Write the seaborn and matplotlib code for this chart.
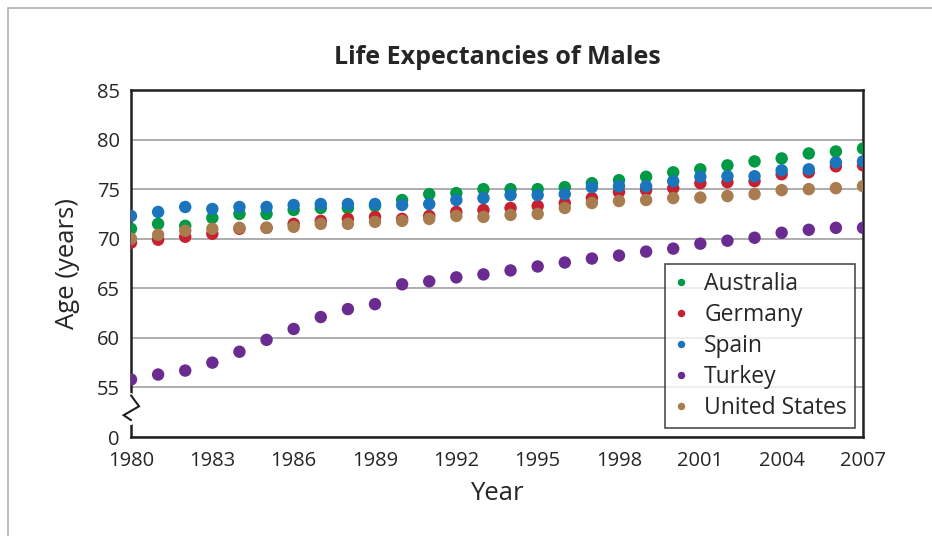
import numpy as np
import pandas as pd
import seaborn as sns
import matplotlib.pyplot as plt
from matplotlib.patches import Rectangle

# values
years = list(range(1980, 2008))
australia = [71.0, 71.5, 71.3, 72.1, 72.5, 72.5, 72.9, 73.1, 73.1, 73.3,
             73.9, 74.5, 74.6, 75.0, 75.0, 75.0, 75.2, 75.6, 75.9, 76.25,
             76.7, 77.0, 77.4, 77.8, 78.1, 78.6, 78.8, 79.1]
germany = [69.6, 69.9, 70.2, 70.5, 71.0, 71.1, 71.5, 71.8, 72.0, 72.2,
           72.0, 72.3, 72.7, 72.9, 73.1, 73.3, 73.6, 74.1, 74.7, 74.9,
           75.1, 75.6, 75.7, 75.8, 76.5, 76.7, 77.3, 77.4]
spain = [72.3, 72.7, 73.2, 73.0, 73.2, 73.2, 73.4, 73.5, 73.5, 73.5,
         73.4, 73.5, 73.9, 74.1, 74.4, 74.4, 74.5, 75.2, 75.3, 75.3,
         75.8, 76.25, 76.3, 76.3, 76.9, 77.0, 77.7, 77.8]
turkey = [55.8, 56.3, 56.7, 57.5, 58.6, 59.8, 60.9, 62.1, 62.9, 63.4,
          65.4, 65.7, 66.1, 66.4, 66.8, 67.2, 67.6, 68.0, 68.3, 68.7,
          69.0, 69.5, 69.8, 70.1, 70.6, 70.9, 71.1, 71.1]
usa = [70.0, 70.4, 70.8, 71.0, 71.1, 71.1, 71.2, 71.5, 71.5, 71.7,
       71.8, 72.0, 72.3, 72.2, 72.4, 72.5, 73.1, 73.6, 73.8, 73.9,
       74.1, 74.15, 74.3, 74.5, 74.9, 75.0, 75.1, 75.3]

countries = ["Australia", "Germany", "Spain", "Turkey", "United States"]
colors = ["#009a44", "#c8202f", "#1b75bc", "#6a2c91", "#a97c50"]
ytick_vals = [50, 55, 60, 65, 70, 75, 80, 85]
ytick_labels = ["0", "55", "60", "65", "70", "75", "80", "85"]
xtick_vals = list(range(1980, 2008, 3))

df = pd.DataFrame({
    "Year": years * 5,
    "Age": australia + germany + spain + turkey + usa,
    "Country": [c for c in countries for _ in years],
})

sns.set_style("white")
plt.rcParams["font.family"] = ["Open Sans", "DejaVu Sans"]

fig = plt.figure(figsize=(9.32, 5.36), dpi=100)
ax = fig.add_axes([131 / 932, 1 - 437 / 536, 732 / 932, 347 / 536])

sns.scatterplot(data=df, x="Year", y="Age", hue="Country", hue_order=countries,
                palette=colors, s=80, edgecolor="none", ax=ax, zorder=3)

ax.set_xlim(1980, 2007)
ax.set_ylim(50, 85)
ax.set_xticks(xtick_vals)
ax.set_xticklabels([str(v) for v in xtick_vals], fontsize=14.5)
ax.set_yticks(ytick_vals)
ax.set_yticklabels(ytick_labels, fontsize=14.5)
ax.tick_params(axis="x", length=0, pad=10)
ax.tick_params(axis="y", length=0, pad=8)
ax.yaxis.grid(True, color="#a7a7aa", lw=1.3)
ax.set_axisbelow(True)

for side in ["left", "right", "top", "bottom"]:
    ax.spines[side].set_color("#231f20")
    ax.spines[side].set_linewidth(1.8)

ax.set_xlabel("Year", fontsize=18.5, labelpad=7)
ax.set_ylabel("Age (years)", fontsize=18.5, labelpad=12)
ax.set_title("Life Expectancies of Males", fontsize=18, fontweight="bold", pad=19)

# axis break zigzag on the left spine
tr = ax.get_yaxis_transform()
ax.plot([0, 0], [51.4, 54.2], color="white", lw=3, transform=tr, clip_on=False, zorder=5)
ax.plot([0, 0.011, -0.01, 0], [54.2, 53.1, 52.2, 51.7], color="#231f20", lw=1.5,
        transform=tr, clip_on=False, zorder=6, solid_joinstyle="miter")

leg = ax.legend(loc="lower right", bbox_to_anchor=(0.989, 0.026), borderaxespad=0,
                fontsize=16.5, frameon=True, fancybox=False, markerscale=0.6,
                handletextpad=0.6, handlelength=0.78, labelspacing=0.31,
                borderpad=0.35, title=None)
leg.get_frame().set_edgecolor("#231f20")
leg.get_frame().set_linewidth(1.2)

# light grey frame around the picture
fig.patches.append(Rectangle((8 / 932, -0.1), 1.1, 1.1 - 8 / 536,
                             transform=fig.transFigure, fill=False,
                             edgecolor="#b0b0b0", lw=1.2))

fig.savefig("out.png", dpi=100)
